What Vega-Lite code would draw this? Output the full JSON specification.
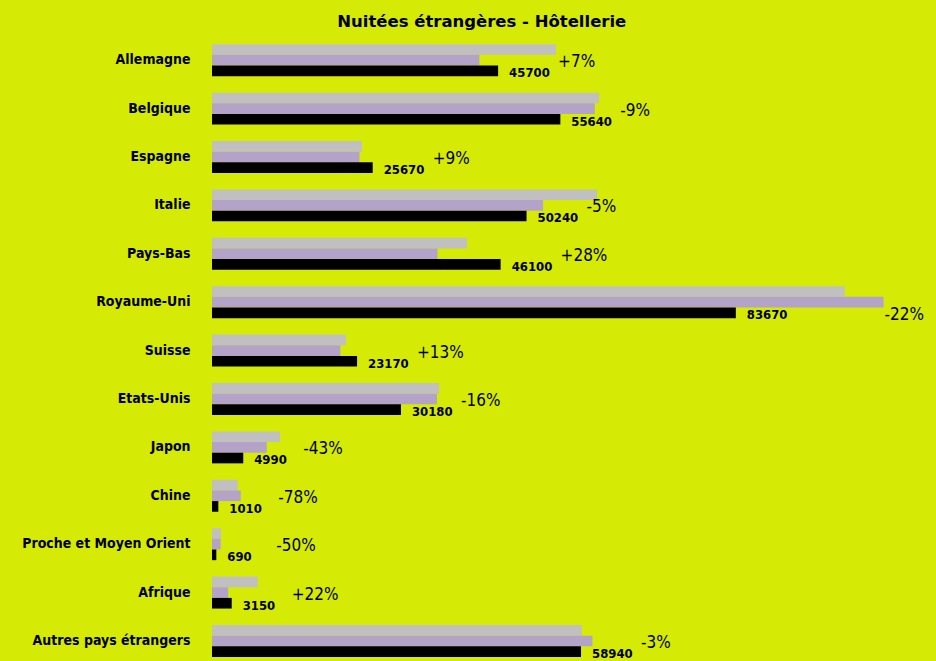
{
  "$schema": "https://vega.github.io/schema/vega-lite/v6.json",
  "autosize": {"type": "none"},
  "padding": {"left": 212, "top": 36, "right": 4, "bottom": 0},
  "width": 720,
  "height": 629.2,
  "background": "#d5ea05",
  "title": {
    "text": "Nuitées étrangères - Hôtellerie",
    "font": "DejaVu Sans",
    "fontSize": 16.5,
    "fontWeight": "bold",
    "color": "#000000",
    "anchor": "middle",
    "frame": "bounds",
    "baseline": "alphabetic",
    "offset": 9,
    "dy": 17,
    "dx": 5
  },
  "config": {
    "view": {"stroke": null},
    "axis": {"grid": false}
  },
  "data": {
    "values": [
      {"pays": "Allemagne", "n2": 54950, "n1": 42710, "n": 45700, "pct": "+7%"},
      {"pays": "Belgique", "n2": 61820, "n1": 61140, "n": 55640, "pct": "-9%"},
      {"pays": "Espagne", "n2": 23960, "n1": 23550, "n": 25670, "pct": "+9%"},
      {"pays": "Italie", "n2": 61500, "n1": 52880, "n": 50240, "pct": "-5%"},
      {"pays": "Pays-Bas", "n2": 40730, "n1": 36020, "n": 46100, "pct": "+28%"},
      {"pays": "Royaume-Uni", "n2": 101050, "n1": 107270, "n": 83670, "pct": "-22%"},
      {"pays": "Suisse", "n2": 21400, "n1": 20500, "n": 23170, "pct": "+13%"},
      {"pays": "Etats-Unis", "n2": 36260, "n1": 35930, "n": 30180, "pct": "-16%"},
      {"pays": "Japon", "n2": 10860, "n1": 8750, "n": 4990, "pct": "-43%"},
      {"pays": "Chine", "n2": 4100, "n1": 4590, "n": 1010, "pct": "-78%"},
      {"pays": "Proche et Moyen Orient", "n2": 1440, "n1": 1380, "n": 690, "pct": "-50%"},
      {"pays": "Afrique", "n2": 7300, "n1": 2580, "n": 3150, "pct": "+22%"},
      {"pays": "Autres pays étrangers", "n2": 59080, "n1": 60760, "n": 58940, "pct": "-3%"}
    ]
  },
  "encoding": {
    "y": {
      "field": "pays",
      "type": "nominal",
      "sort": null,
      "scale": {"paddingInner": 0.34, "paddingOuter": 0.17},
      "axis": {
        "title": null,
        "domain": false,
        "ticks": false,
        "labelPadding": 22,
        "labelFont": "DejaVu Sans Condensed",
        "labelFontSize": 14,
        "labelFontWeight": "bold",
        "labelColor": "#000000"
      }
    }
  },
  "layer": [
    {
      "transform": [{"fold": ["n2", "n1", "n"], "as": ["serie", "valeur"]}],
      "mark": {"type": "bar"},
      "encoding": {
        "x": {
          "field": "valeur",
          "type": "quantitative",
          "scale": {"domain": [0, 115000], "nice": false},
          "axis": null
        },
        "yOffset": {
          "field": "serie",
          "type": "nominal",
          "sort": ["n2", "n1", "n"],
          "scale": {"paddingInner": 0, "paddingOuter": 0}
        },
        "color": {
          "field": "serie",
          "type": "nominal",
          "scale": {"domain": ["n2", "n1", "n"], "range": ["#c0c0c0", "#b3a3c8", "#000000"]},
          "legend": null
        }
      }
    },
    {
      "mark": {
        "type": "text",
        "align": "left",
        "baseline": "alphabetic",
        "dx": 11,
        "dy": 17,
        "font": "DejaVu Sans Condensed",
        "fontSize": 13,
        "fontWeight": "bold",
        "color": "#000000"
      },
      "encoding": {
        "x": {"field": "n", "type": "quantitative"},
        "text": {"field": "n", "type": "quantitative", "format": "d"}
      }
    },
    {
      "transform": [{"filter": {"not": {"field": "pays", "equal": "Royaume-Uni"}}}],
      "mark": {
        "type": "text",
        "align": "left",
        "baseline": "middle",
        "dx": 60,
        "dy": 2,
        "font": "DejaVu Sans Condensed",
        "fontSize": 17,
        "color": "#000000"
      },
      "encoding": {
        "x": {"field": "n", "type": "quantitative"},
        "text": {"field": "pct", "type": "nominal"}
      }
    },
    {
      "transform": [{"filter": {"field": "pays", "equal": "Royaume-Uni"}}],
      "mark": {
        "type": "text",
        "align": "left",
        "baseline": "middle",
        "dx": 1,
        "dy": 13,
        "font": "DejaVu Sans Condensed",
        "fontSize": 17,
        "color": "#000000"
      },
      "encoding": {
        "x": {"field": "n1", "type": "quantitative"},
        "text": {"field": "pct", "type": "nominal"}
      }
    }
  ]
}
